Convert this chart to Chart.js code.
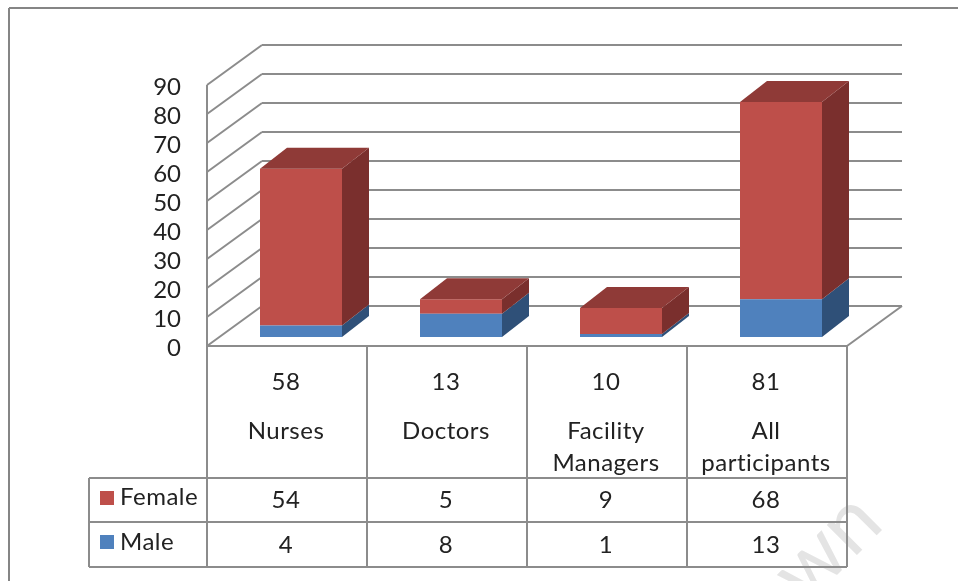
<!DOCTYPE html>
<html>
<head>
<meta charset="utf-8">
<title>Participants</title>
<script src="https://cdn.jsdelivr.net/npm/chart.js@4/dist/chart.umd.min.js"></script>
<style>
  html, body { margin: 0; background: #fff; overflow: hidden; }
  canvas { display: block; }
</style>
</head>
<body>
<canvas id="chart" width="958" height="581"></canvas>
<script>
const categories = ["Nurses", "Doctors", ["Facility", "Managers"], ["All", "participants"]];
const totals = [58, 13, 10, 81];
const maleValues = [4, 8, 1, 13];
const femaleValues = [54, 5, 9, 68];
const yTicks = [0, 10, 20, 30, 40, 50, 60, 70, 80, 90];

const FONT = '24px Lato';
const TEXT = "#222";
const LINE = "#8c8c8c";

// depth of the fake 3d box
const FRONT = { dx: -14, dy: 9 };
const BACK = { dx: 41, dy: -31 };
const BAR_DEPTH = { dx: 27, dy: -21 };

function line(ctx, x1, y1, x2, y2) {
  ctx.beginPath();
  ctx.moveTo(x1, y1);
  ctx.lineTo(x2, y2);
  ctx.stroke();
}

function poly(ctx, pts, color) {
  ctx.fillStyle = color;
  ctx.beginPath();
  pts.forEach((p, i) => i ? ctx.lineTo(p[0], p[1]) : ctx.moveTo(p[0], p[1]));
  ctx.closePath();
  ctx.fill();
}

/* ================= WALLS + FRAME ================= */

const wallsPlugin = {
  id: "walls",
  beforeDatasetsDraw(chart) {
    const { ctx, scales: { y }, chartArea: a } = chart;
    ctx.save();

    // watermark sits behind everything
    ctx.save();
    ctx.translate(846, 566);
    ctx.rotate(-Math.PI / 4);
    ctx.fillStyle = "#e4e4e4";
    ctx.font = "84px Lato";
    ctx.textAlign = "center";
    ctx.fillText("wn", 0, 0);
    ctx.restore();

    // outer frame, top and left only are in the crop
    ctx.strokeStyle = "#858585";
    ctx.lineWidth = 2;
    line(ctx, 9, 8, 958, 8);
    line(ctx, 9, 8, 9, 581);

    ctx.strokeStyle = LINE;
    ctx.lineWidth = 2;
    yTicks.forEach(t => {
      const py = y.getPixelForValue(t);
      line(ctx, a.left + FRONT.dx, py + FRONT.dy, a.left + BACK.dx, py + BACK.dy);
      line(ctx, a.left + BACK.dx, py + BACK.dy, a.right + BACK.dx, py + BACK.dy);
    });
    const top = y.getPixelForValue(90);
    const zero = y.getPixelForValue(0);
    line(ctx, a.left + FRONT.dx, top + FRONT.dy, a.left + FRONT.dx, zero + FRONT.dy);
    line(ctx, a.right + FRONT.dx, zero + FRONT.dy, a.right + BACK.dx, zero + BACK.dy);
    ctx.restore();
  }
};

/* ================= BAR SIDES ================= */

const barSidesPlugin = {
  id: "barSides",
  afterDatasetsDraw(chart) {
    const { ctx } = chart;
    const sideColors = ["#2f5078", "#7a2f2d"];
    const topColor = "#8f3a37";
    const d = BAR_DEPTH;
    ctx.save();
    chart.data.datasets.forEach((ds, di) => {
      chart.getDatasetMeta(di).data.forEach(bar => {
        const right = bar.x + bar.width / 2;
        const left = bar.x - bar.width / 2;
        poly(ctx, [[right, bar.y], [right + d.dx, bar.y + d.dy], [right + d.dx, bar.base + d.dy], [right, bar.base]], sideColors[di]);
        if (di === 1) {
          poly(ctx, [[left, bar.y], [left + d.dx, bar.y + d.dy], [right + d.dx, bar.y + d.dy], [right, bar.y]], topColor);
        }
      });
    });
    ctx.restore();
  }
};

/* ================= DATA TABLE ================= */

const tablePlugin = {
  id: "dataTable",
  afterDraw(chart) {
    const { ctx, scales: { x, y }, chartArea: a } = chart;
    const headTop = y.getPixelForValue(0) + FRONT.dy;
    const rows = [478, 522, 567];
    const keyLeft = 89;
    const left = a.left + FRONT.dx;
    const right = a.right + FRONT.dx;
    const step = (right - left) / categories.length;

    ctx.save();
    ctx.strokeStyle = LINE;
    ctx.lineWidth = 2;
    line(ctx, left, headTop, right, headTop);
    line(ctx, left, rows[0], right, rows[0]);
    line(ctx, keyLeft, rows[0], left, rows[0]);
    line(ctx, keyLeft, rows[1], right, rows[1]);
    line(ctx, keyLeft, rows[2], right, rows[2]);
    line(ctx, keyLeft, rows[0], keyLeft, rows[2]);
    for (let i = 0; i <= categories.length; i++) {
      line(ctx, left + step * i, headTop, left + step * i, rows[2]);
    }

    ctx.fillStyle = TEXT;
    ctx.font = FONT;
    ctx.letterSpacing = "0.5px";
    ctx.textBaseline = "middle";
    ctx.textAlign = "center";
    categories.forEach((name, i) => {
      const cx = x.getPixelForValue(i) + FRONT.dx - 1;
      ctx.fillText(totals[i], cx, 382);
      if (Array.isArray(name)) {
        ctx.fillText(name[0], cx, 431);
        ctx.fillText(name[1], cx, 463);
      } else {
        ctx.fillText(name, cx, 431);
      }
      ctx.fillText(femaleValues[i], cx, 500);
      ctx.fillText(maleValues[i], cx, 545);
    });

    // legend keys live in the table
    ctx.textAlign = "left";
    ctx.fillText(chart.data.datasets[1].label, 120, 497);
    ctx.fillText(chart.data.datasets[0].label, 120, 542);
    ctx.fillStyle = chart.data.datasets[1].backgroundColor;
    ctx.fillRect(100, 491, 14, 14);
    ctx.fillStyle = chart.data.datasets[0].backgroundColor;
    ctx.fillRect(100, 535, 14, 14);
    ctx.restore();
  }
};

new Chart(document.getElementById("chart"), {
  type: "bar",
  data: {
    labels: categories,
    datasets: [
      { label: "Male", data: maleValues, backgroundColor: "#4f81bd" },
      { label: "Female", data: femaleValues, backgroundColor: "#be4f4a" }
    ]
  },
  options: {
    responsive: false,
    animation: false,
    layout: { padding: { left: 0, top: 76, right: 97, bottom: 244 } },
    datasets: { bar: { categoryPercentage: 1, barPercentage: 0.5125 } },
    plugins: { legend: { display: false }, tooltip: { enabled: false } },
    scales: {
      x: { stacked: true, display: false },
      y: {
        stacked: true,
        min: 0,
        max: 90,
        afterFit: s => { s.width = 221; },
        afterBuildTicks: s => { s.ticks = yTicks.map(v => ({ value: v })); },
        grid: { display: false, drawTicks: false },
        border: { display: false },
        ticks: { color: TEXT, font: { family: "Lato", size: 24 }, padding: 40, labelOffset: FRONT.dy + 2, autoSkip: false }
      }
    }
  },
  plugins: [wallsPlugin, barSidesPlugin, tablePlugin]
});
</script>
</body>
</html>
